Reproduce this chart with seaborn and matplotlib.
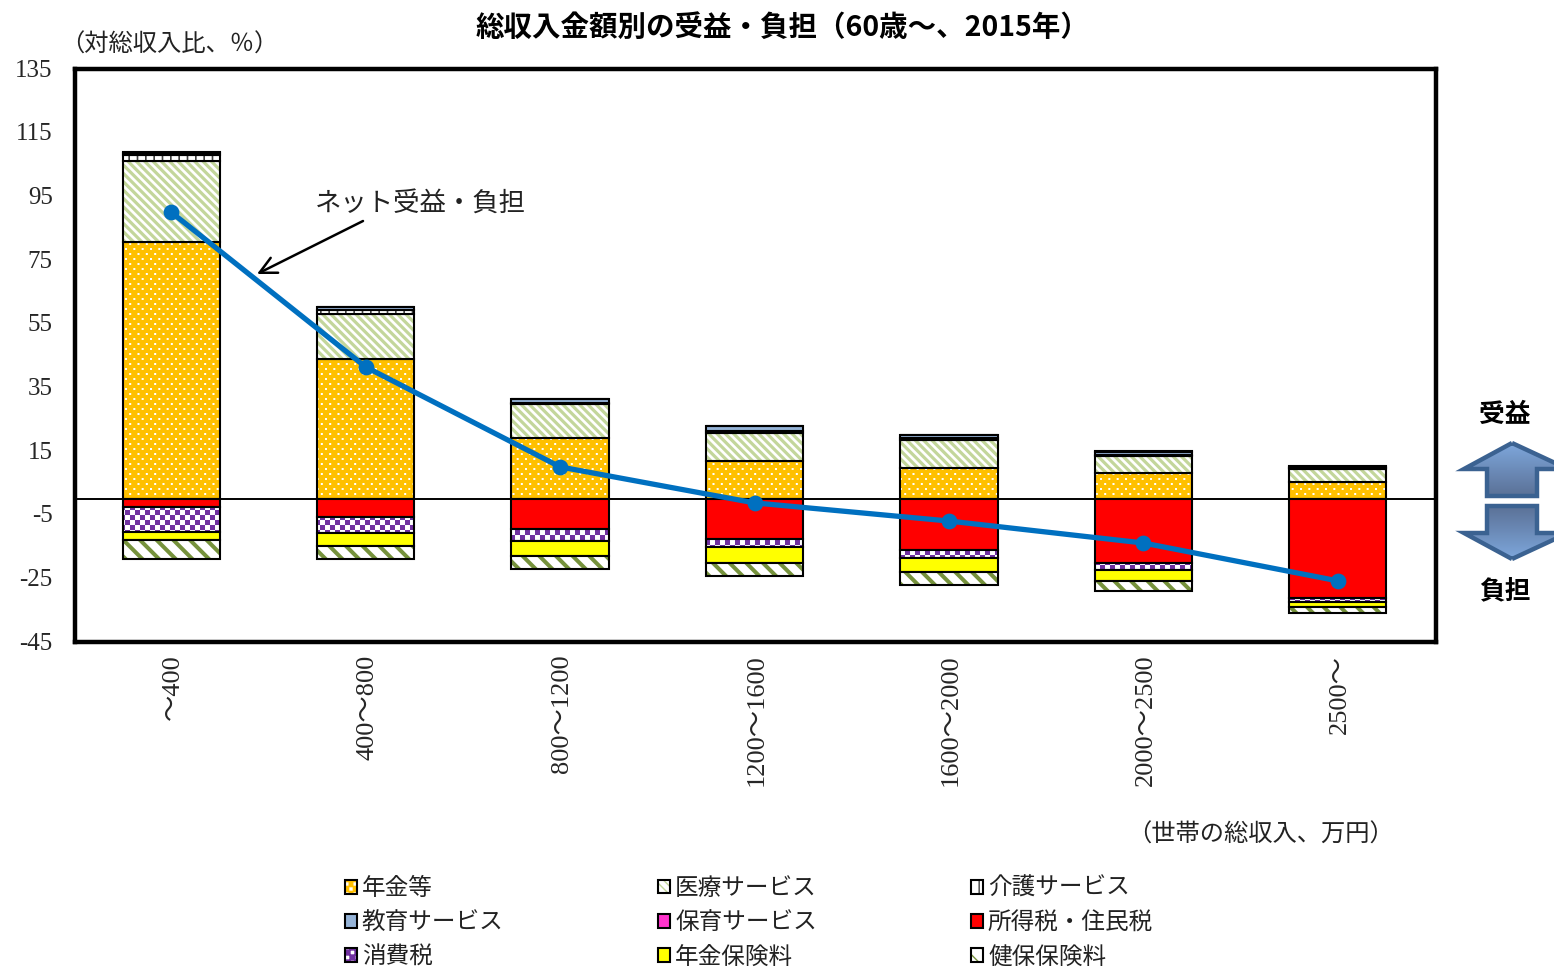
import numpy as np
import matplotlib
matplotlib.use("Agg")
import matplotlib.pyplot as plt
import matplotlib.hatch as mhatch
from matplotlib.path import Path
from matplotlib.patches import Patch, Polygon
from matplotlib.legend_handler import HandlerTuple
from matplotlib.colors import LinearSegmentedColormap
from matplotlib.transforms import ScaledTranslation
import seaborn as sns

categories = ["～400", "400～800", "800～1200", "1200～1600", "1600～2000", "2000～2500", "2500～"]
yticks = [-45, -25, -5, 15, 35, 55, 75, 95, 115, 135]

pension = [80.6, 43.9, 19.0, 11.8, 9.8, 8.2, 5.3]
medical = [25.4, 14.1, 10.7, 8.8, 8.6, 5.2, 4.0]
care = [1.9, 1.2, 0.4, 0.6, 0.6, 0.3, 0.5]
education = [0.8, 1.0, 1.2, 1.5, 1.0, 1.1, 0.3]
childcare = [0.1, 0.1, 0.1, 0.1, 0.1, 0.1, 0.1]
income_tax = [-2.7, -5.8, -9.5, -12.7, -16.1, -20.2, -31.2]
consumption_tax = [-7.7, -5.0, -3.7, -2.5, -2.5, -2.2, -1.2]
pension_premium = [-2.5, -4.0, -4.7, -5.0, -4.4, -3.5, -1.6]
health_premium = [-6.0, -4.0, -4.1, -4.1, -4.1, -3.1, -1.9]
net_benefit = [90.0, 41.4, 10.0, -1.3, -7.0, -13.9, -25.8]


def _square(vertices, codes, i, x, y, w, h):
    vertices[i:i + 5] = [(x, y), (x + w, y), (x + w, y + h), (x, y + h), (x, y)]
    codes[i:i + 5] = [Path.MOVETO, Path.LINETO, Path.LINETO, Path.LINETO, Path.CLOSEPOLY]


class Checker(mhatch.HatchPatternBase):
    """Checkerboard used for the '*' hatch symbol."""
    def __init__(self, hatch, density):
        self.n = 20 if hatch.count("*") else 0
        self.num_vertices = 5 * (self.n * self.n // 2)

    def set_vertices_and_codes(self, vertices, codes):
        n = self.n
        if not n:
            return
        s = 1.0 / n
        i = 0
        for r in range(n):
            for c in range(n):
                if (r + c) % 2 == 0:
                    _square(vertices, codes, i, c * s, r * s, s, s)
                    i += 5


class Dots(mhatch.HatchPatternBase):
    """Staggered small square dots used for the '.' hatch symbol."""
    def __init__(self, hatch, density):
        self.on = bool(hatch.count("."))
        self.rows, self.cols = 20, 12
        self.num_vertices = 5 * self.rows * self.cols if self.on else 0

    def set_vertices_and_codes(self, vertices, codes):
        if not self.on:
            return
        i = 0
        dy, dx = 1.0 / self.rows, 1.0 / self.cols
        d = 0.02
        for r in range(self.rows):
            for c in range(self.cols):
                x = (c + (0.5 if r % 2 else 0)) * dx
                _square(vertices, codes, i, x, r * dy, d, d)
                i += 5


mhatch._hatch_types[:] = [t for t in mhatch._hatch_types
                          if t.__name__ not in ("Stars", "SmallFilledCircles")] + [Checker, Dots]

sns.set_theme(style="white")
FONT = ["Liberation Serif", "Noto Sans CJK JP"]
plt.rcParams["font.family"] = FONT
plt.rcParams["axes.unicode_minus"] = False

W, H = 1554, 971
fig = plt.figure(figsize=(W / 100, H / 100), dpi=100, facecolor="white")
ax = fig.add_axes([75 / W, 1 - 642 / H, (1436 - 75) / W, (642 - 69) / H])

# name, values, face colour, hatch colour, hatch, hatch width
positive = [
    ("年金等", pension, "#FFC000", "white", ".", 0.01),
    ("医療サービス", medical, "white", "#C3D69B", "\\\\\\\\", 2.3),
    ("介護サービス", care, "white", "#404040", "||", 1.2),
    ("教育サービス", education, "#95B3D7", "#95B3D7", None, 0.5),
    ("保育サービス", childcare, "#FF33CC", "#FF33CC", None, 0.5),
]
negative = [
    ("所得税・住民税", income_tax, "#FF0000", "#FF0000", None, 0.5),
    ("消費税", consumption_tax, "white", "#7030A0", "*", 0.01),
    ("年金保険料", pension_premium, "#FFFF00", "#FFFF00", None, 0.5),
    ("健保保険料", health_premium, "white", "#76923C", "\\\\", 2.9),
]


def stacked(series):
    base = np.zeros(len(categories))
    for name, vals, face, hcol, hatch, hw in series:
        vals = np.asarray(vals, dtype=float)
        n0 = len(ax.patches)
        sns.barplot(x=categories, y=vals, bottom=base, color=face, saturation=1,
                    width=0.5, errorbar=None, ax=ax, order=categories)
        for p in ax.patches[n0:]:
            p.set_facecolor(face)
            p.set_edgecolor(hcol)
            p.set_linewidth(0)
            p.set_hatch(hatch)
            p.set_hatch_linewidth(hw)
        n0 = len(ax.patches)
        sns.barplot(x=categories, y=vals, bottom=base, color=face, saturation=1,
                    width=0.5, errorbar=None, ax=ax, order=categories)
        for p in ax.patches[n0:]:
            p.set_facecolor("none")
            p.set_edgecolor("black")
            p.set_linewidth(1.5)
        base = base + vals


stacked(positive)
stacked(negative)
ax.axhline(0, color="black", lw=1.4, zorder=1.5)
sns.pointplot(x=categories, y=net_benefit, order=categories, color="#0070C0", errorbar=None,
              markers="o", markersize=8.5, linewidth=3.8, ax=ax)

ax.set_xlim(-0.495, len(categories) - 0.495)
ax.set_ylim(-45, 135)
ax.set_yticks(yticks)
ax.set_xlabel("")
ax.set_ylabel("")
ax.tick_params(axis="y", length=0, pad=16, labelsize=18)
ax.tick_params(axis="x", length=0, pad=9, labelsize=19, labelrotation=90)
for lbl in ax.get_xticklabels():
    lbl.set_transform(lbl.get_transform() + ScaledTranslation(2 / 100, 0, fig.dpi_scale_trans))
for lbl in ax.get_yticklabels():
    lbl.set_transform(lbl.get_transform() + ScaledTranslation(0, 1 / 100, fig.dpi_scale_trans))
for s in ax.spines.values():
    s.set_visible(True)
    s.set_color("black")
    s.set_linewidth(3.2)

ov = fig.add_axes([0, 0, 1, 1], zorder=5)
ov.patch.set_alpha(0)
ov.axis("off")


def finish_limits():
    ov.set_xlim(0, W)
    ov.set_ylim(H, 0)


finish_limits()
ov.text(783, 28, "総収入金額別の受益・負担（60歳～、2015年）", ha="center", va="center", fontsize=20.5,
        fontweight="bold", color="black", family="Noto Sans CJK JP")
ov.text(60, 45, "（対総収入比、％）", ha="left", va="center", fontsize=17.5, color="#222222")
ov.text(1127, 835, "（世帯の総収入、万円）", ha="left", va="center", fontsize=17.5, color="#222222")
ov.text(315, 203, "ネット受益・負担", ha="left", va="center", fontsize=19, color="#222222")
ov.annotate("", xy=(257, 274), xytext=(363, 221),
            arrowprops=dict(arrowstyle="->,head_length=1.0,head_width=0.5", color="black", lw=1.8,
                            shrinkA=0, shrinkB=0))
ov.text(1505, 415, "受益", ha="center", va="center", fontsize=18.5, fontweight="bold", color="black")
ov.text(1505, 591, "負担", ha="center", va="center", fontsize=18.5, fontweight="bold", color="black")

up = [(1512, 443), (1568, 469), (1537, 469), (1537, 496), (1487, 496), (1487, 469), (1464, 469)]
down = [(1512, 559), (1568, 533), (1537, 533), (1537, 506), (1487, 506), (1487, 533), (1464, 533)]
cm_up = LinearSegmentedColormap.from_list("u", ["#7FA9DE", "#5B7197"])
cm_dn = LinearSegmentedColormap.from_list("d", ["#5B7197", "#7FA9DE"])
for poly, cm, ext in ((up, cm_up, (1458, 1568, 496, 441)), (down, cm_dn, (1458, 1568, 561, 506))):
    grad = np.linspace(0, 1, 64).reshape(-1, 1)
    im = ov.imshow(grad, cmap=cm, extent=ext, aspect="auto", origin="upper", zorder=2)
    pg = Polygon(poly, closed=True, facecolor="none", edgecolor="#3B6291", lw=3.2, zorder=3, joinstyle="miter")
    ov.add_patch(pg)
    im.set_clip_path(pg)
finish_limits()

all_series = positive + negative
legend_cols = [
    (345, [all_series[0], all_series[3], all_series[6]]),
    (658, [all_series[1], all_series[4], all_series[7]]),
    (971, [all_series[2], all_series[5], all_series[8]]),
]
for xpx, items in legend_cols:
    handles, labels = [], []
    for name, vals, face, hcol, hatch, hw in items:
        fill = Patch(facecolor=face, edgecolor=hcol, linewidth=0, hatch=hatch)
        fill.set_hatch_linewidth(hw)
        edge = Patch(facecolor="none", edgecolor="black", linewidth=1.5)
        handles.append((fill, edge))
        labels.append(name)
    leg = fig.legend(handles, labels, loc="upper left", bbox_to_anchor=(xpx / W, 1 - 878 / H),
                     bbox_transform=fig.transFigure, frameon=False, fontsize=17, borderpad=0,
                     borderaxespad=0, handlelength=0.52, handleheight=0.52, handletextpad=0.2,
                     labelspacing=0.52, handler_map={tuple: HandlerTuple(ndivide=1, pad=0)},
                     labelcolor="#222222")
    leg.set_zorder(10)

fig.savefig("out.png", dpi=100, facecolor="white")
